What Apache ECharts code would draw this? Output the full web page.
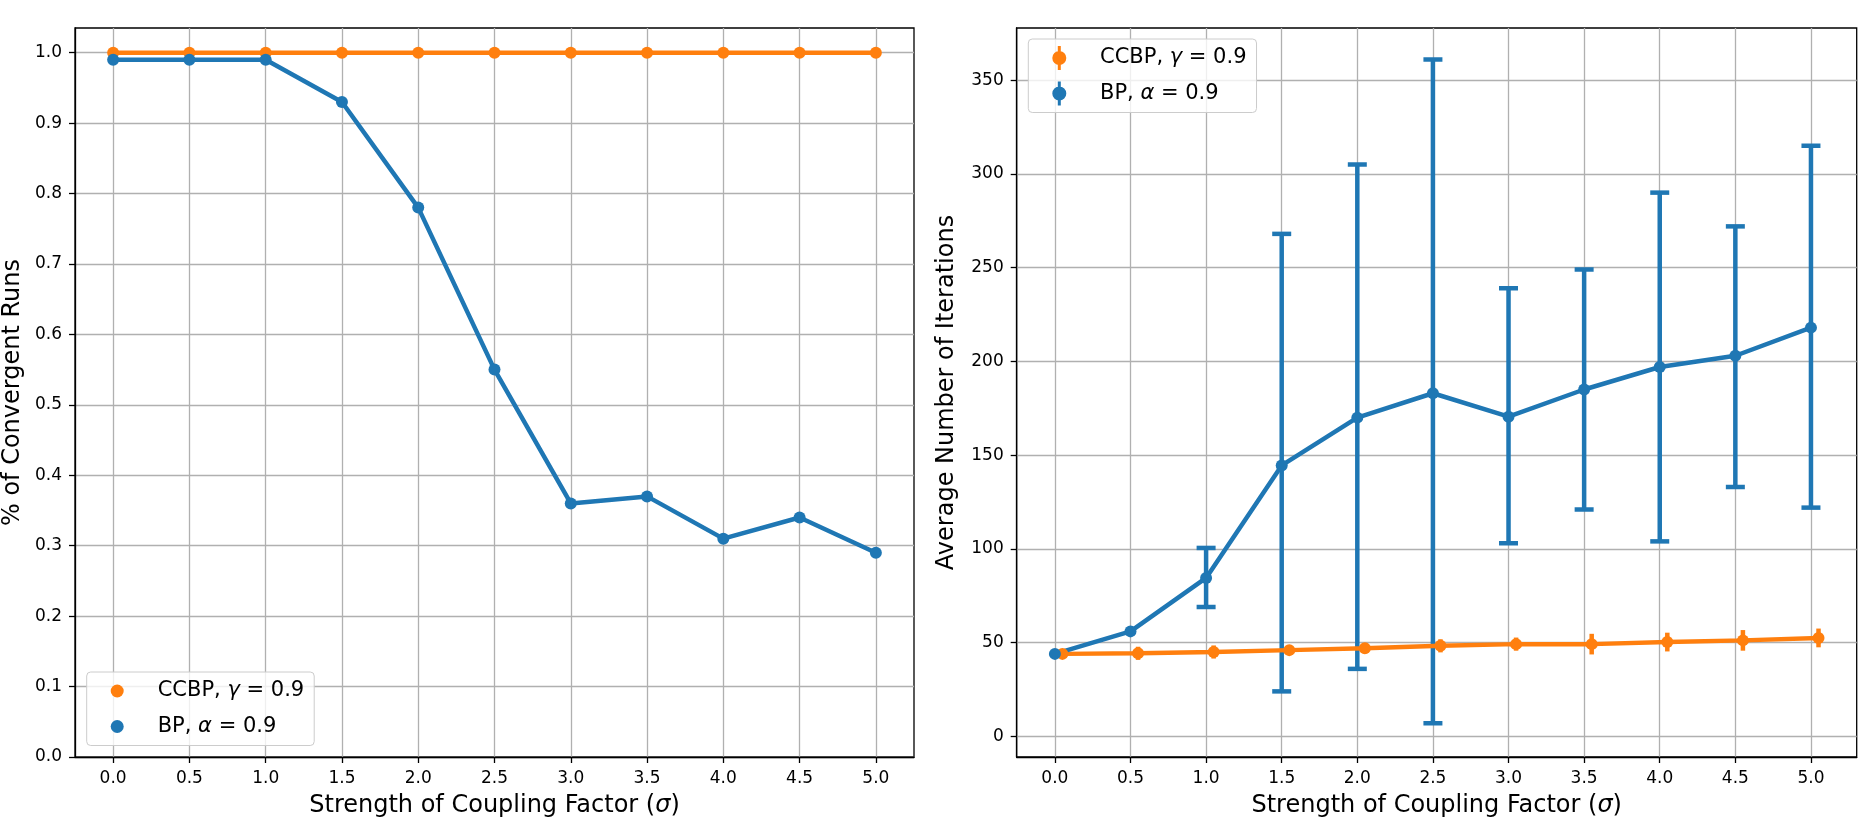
<!DOCTYPE html>
<html>
<head>
<meta charset="utf-8">
<script src="https://cdn.jsdelivr.net/npm/echarts@6/dist/echarts.min.js"></script>
<style>
  html, body { margin: 0; padding: 0; background: #fff; }
  #chart { width: 1860px; height: 828px; }
</style>
</head>
<body>
<div id="chart"></div>
<script>
// coupling strength (sigma) on both x axes
var sigma = [0.0, 0.5, 1.0, 1.5, 2.0, 2.5, 3.0, 3.5, 4.0, 4.5, 5.0];
var sigmaTicks = [0.0, 0.5, 1.0, 1.5, 2.0, 2.5, 3.0, 3.5, 4.0, 4.5, 5.0];

// left panel: fraction of convergent runs
var ccbpRate = [1.0, 1.0, 1.0, 1.0, 1.0, 1.0, 1.0, 1.0, 1.0, 1.0, 1.0];
var bpRate = [0.99, 0.99, 0.99, 0.93, 0.78, 0.55, 0.36, 0.37, 0.31, 0.34, 0.29];
var rateTicks = [0.0, 0.1, 0.2, 0.3, 0.4, 0.5, 0.6, 0.7, 0.8, 0.9, 1.0];

// right panel: average number of iterations (CCBP drawn slightly shifted in x)
var ccbpIterX = [0.05, 0.55, 1.05, 1.55, 2.05, 2.55, 3.05, 3.55, 4.05, 4.55, 5.05];
var ccbpIter = [44, 44.3, 45, 46, 47, 48.3, 49.2, 49.2, 50.3, 51.2, 52.5];
var ccbpIterErr = [1, 3.5, 3.5, 2.5, 2.5, 3.5, 3.5, 5.5, 5, 5.5, 5];
var bpIter = [44, 56, 84.5, 144.5, 170, 183, 170.5, 185, 197, 203, 218];
var bpLow = [null, null, 69, 24, 36, 7, 103, 121, 104, 133, 122];
var bpHigh = [null, null, 100.5, 268, 305, 361, 239, 249, 290, 272, 315];
var iterTicks = [0, 50, 100, 150, 200, 250, 300, 350];

var ORANGE = '#ff7f0e';
var BLUE = '#1f77b4';
var FONT = 'DejaVu Sans';

function pairs(xs, ys) {
    return xs.map(function (x, i) { return [x, ys[i]]; });
}

function errorRows(xs, lows, highs) {
    var rows = [];
    xs.forEach(function (x, i) {
        if (lows[i] != null && highs[i] != null) rows.push([x, lows[i], highs[i]]);
    });
    return rows;
}

function errorBars(color, lineWidth, capHalf) {
    return function (params, api) {
        var p1 = api.coord([api.value(0), api.value(1)]);
        var p2 = api.coord([api.value(0), api.value(2)]);
        var style = { stroke: color, lineWidth: lineWidth };
        var children = [{
            type: 'line',
            shape: { x1: p1[0], y1: p1[1], x2: p2[0], y2: p2[1] },
            style: style
        }];
        if (capHalf) {
            [p1, p2].forEach(function (p) {
                children.push({
                    type: 'line',
                    shape: { x1: p[0] - capHalf, y1: p[1], x2: p[0] + capHalf, y2: p[1] },
                    style: style
                });
            });
        }
        return { type: 'group', children: children };
    };
}

function xAxis(gridIndex, min, max) {
    return {
        type: 'value', gridIndex: gridIndex, min: min, max: max,
        name: 'Strength of Coupling Factor ({i|σ})',
        nameLocation: 'middle', nameGap: 37,
        nameTextStyle: {
            fontFamily: FONT, fontSize: 24, color: '#000',
            rich: { i: { fontFamily: FONT, fontSize: 24, fontStyle: 'italic', color: '#000' } }
        },
        axisLine: { show: true, onZero: false, lineStyle: { color: '#000', width: 1.3 } },
        axisTick: { show: true, length: 6, customValues: sigmaTicks, lineStyle: { color: '#000', width: 1.3 } },
        axisLabel: {
            customValues: sigmaTicks, margin: 13, color: '#000', fontFamily: FONT, fontSize: 17,
            formatter: function (v) { return v.toFixed(1); }
        },
        splitLine: { show: true, lineStyle: { color: '#b0b0b0', width: 1.3 } }
    };
}

function yAxis(gridIndex, min, max, ticks, name, gap, digits) {
    return {
        type: 'value', gridIndex: gridIndex, min: min, max: max,
        name: name, nameLocation: 'middle', nameGap: gap,
        nameTextStyle: { fontFamily: FONT, fontSize: 24, color: '#000' },
        axisLine: { show: true, onZero: false, lineStyle: { color: '#000', width: 1.3 } },
        axisTick: { show: true, length: 6, customValues: ticks, lineStyle: { color: '#000', width: 1.3 } },
        axisLabel: {
            customValues: ticks, margin: 13, color: '#000', fontFamily: FONT, fontSize: 17,
            formatter: function (v) { return v.toFixed(digits); }
        },
        splitLine: { show: true, lineStyle: { color: '#b0b0b0', width: 1.3 } }
    };
}

function legendText(name) {
    return name === 'CCBP' ? 'CCBP, {i|γ} = 0.9' : 'BP, {i|α} = 0.9';
}

function legend(left, top, icon, iconW, textPad) {
    return {
        orient: 'vertical', left: left, top: top,
        data: [{ name: 'CCBP', icon: icon }, { name: 'BP', icon: icon }],
        itemWidth: iconW, itemHeight: 24, itemGap: 11.5,
        padding: [7, 10, 7, 24],
        backgroundColor: 'rgba(255,255,255,0.8)',
        borderColor: '#cccccc', borderWidth: 1, borderRadius: 4,
        itemStyle: { borderWidth: 0 },
        selectedMode: false,
        formatter: legendText,
        textStyle: {
            fontFamily: FONT, fontSize: 21, color: '#000', lineHeight: 24,
            padding: [0, 0, 0, textPad],
            rich: { i: { fontFamily: FONT, fontSize: 21, fontStyle: 'italic', color: '#000', lineHeight: 24 } }
        }
    };
}

var errIcon = 'path://M5.5,0 L8.5,0 L8.5,24 L5.5,24 Z M0,12 A7,7 0 1,1 14,12 A7,7 0 1,1 0,12 Z';

var option = {
    animation: false,
    backgroundColor: '#fff',
    grid: [
        { left: 74.5, right: 946, top: 28, bottom: 71, show: true, borderColor: '#000', borderWidth: 1.3 },
        { left: 1016.7, right: 3.3, top: 28, bottom: 71, show: true, borderColor: '#000', borderWidth: 1.3 }
    ],
    xAxis: [xAxis(0, -0.25, 5.25), xAxis(1, -0.2525, 5.3025)],
    yAxis: [
        yAxis(0, 0, 1.035, rateTicks, '% of Convergent Runs', 50, 1),
        yAxis(1, -11, 377.8, iterTicks, 'Average Number of Iterations', 57.7, 0)
    ],
    legend: [
        legend(86.7, 672, 'circle', 13, 29),
        legend(1028.3, 39, errIcon, 14, 28.7)
    ],
    series: [
        {
            name: 'CCBP', type: 'line', xAxisIndex: 0, yAxisIndex: 0,
            data: pairs(sigma, ccbpRate),
            symbol: 'circle', symbolSize: 12, showAllSymbol: true,
            lineStyle: { color: ORANGE, width: 4.5 },
            itemStyle: { color: ORANGE, borderWidth: 0 }
        },
        {
            name: 'BP', type: 'line', xAxisIndex: 0, yAxisIndex: 0,
            data: pairs(sigma, bpRate),
            symbol: 'circle', symbolSize: 12, showAllSymbol: true,
            lineStyle: { color: BLUE, width: 4.5 },
            itemStyle: { color: BLUE, borderWidth: 0 }
        },
        {
            name: 'CCBP', type: 'custom', xAxisIndex: 1, yAxisIndex: 1,
            data: errorRows(ccbpIterX,
                ccbpIter.map(function (v, i) { return v - ccbpIterErr[i]; }),
                ccbpIter.map(function (v, i) { return v + ccbpIterErr[i]; })),
            encode: { x: 0, y: [1, 2] },
            renderItem: errorBars(ORANGE, 4.5, 0),
            itemStyle: { color: ORANGE }
        },
        {
            name: 'CCBP', type: 'line', xAxisIndex: 1, yAxisIndex: 1,
            data: pairs(ccbpIterX, ccbpIter),
            symbol: 'circle', symbolSize: 12, showAllSymbol: true,
            lineStyle: { color: ORANGE, width: 4.5 },
            itemStyle: { color: ORANGE, borderWidth: 0 }
        },
        {
            name: 'BP', type: 'custom', xAxisIndex: 1, yAxisIndex: 1,
            data: errorRows(sigma, bpLow, bpHigh),
            encode: { x: 0, y: [1, 2] },
            renderItem: errorBars(BLUE, 4.5, 9.5),
            itemStyle: { color: BLUE }
        },
        {
            name: 'BP', type: 'line', xAxisIndex: 1, yAxisIndex: 1,
            data: pairs(sigma, bpIter),
            symbol: 'circle', symbolSize: 12, showAllSymbol: true,
            lineStyle: { color: BLUE, width: 4.5 },
            itemStyle: { color: BLUE, borderWidth: 0 }
        }
    ]
};

echarts.init(document.getElementById('chart')).setOption(option);
</script>
</body>
</html>
